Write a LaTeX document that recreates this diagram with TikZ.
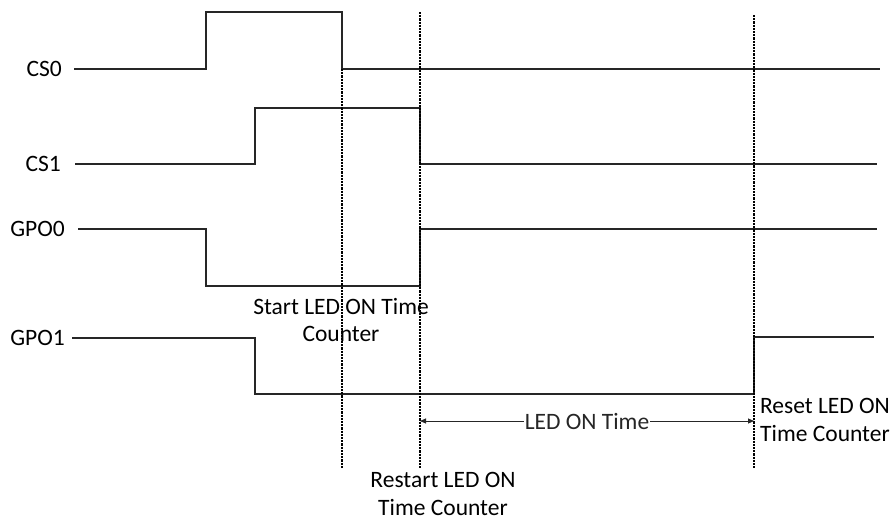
\documentclass[tikz,border=0pt]{standalone}
\usepackage{fontspec}
\setmainfont{Carlito}
\usetikzlibrary{arrows.meta}
\begin{document}
\begin{tikzpicture}[x=1pt,y=-1pt,
  sig/.style={line width=1.1pt, black!85, line join=miter},
  guide/.style={line width=1.1pt, black, dash pattern=on 2.2pt off 1pt},
  lbl/.style={font=\fontsize{23.5}{27.5}\selectfont, inner sep=0pt},
  span/.style={line width=0.9pt, black!85, {Triangle[length=6pt,width=5pt]}-{Triangle[length=6pt,width=5pt]}}]
\useasboundingbox (0,0) rectangle (894,522);
% signal labels
\node[lbl, anchor=east] (cs0) at (62,69) {CS0};
\node[lbl, anchor=east] (cs1) at (61,164) {CS1};
\node[lbl, anchor=east] (gpo0) at (65,229) {GPO0};
\node[lbl, anchor=east] (gpo1) at (65,338) {GPO1};
% waveforms
\draw[sig] (74,69) -- (206,69) -- (206,12) -- (342,12) -- (342,69) -- (880,69);
\draw[sig] (75,164) -- (255,164) -- (255,108) -- (420,108) -- (420,164) -- (877,164);
\draw[sig] (78,229) -- (206,229) -- (206,286) -- (420,286) -- (420,229) -- (877,229);
\draw[sig] (72,338) -- (255,338) -- (255,394) -- (754,394) -- (754,337) -- (874,337);
% guide lines
\coordinate (g1t) at (342,69);  \coordinate (g1b) at (342,468);
\coordinate (g2t) at (420,12);  \coordinate (g2b) at (420,468);
\coordinate (g3t) at (754,15);  \coordinate (g3b) at (754,468);
\draw[guide] (g1t) -- (g1b);
\draw[guide] (g2t) -- (g2b);
\draw[guide] (g3t) -- (g3b);
% LED ON time span
\coordinate (aL) at (420,421);
\coordinate (aR) at (754,421);
\draw[span] (aL) -- node[lbl, fill=white, inner xsep=1pt, inner ysep=2pt] (ledon) {LED ON Time} (aR);
% annotations
\node[lbl, align=center] (start) at (341,320) {Start LED ON Time\\Counter};
\node[lbl, align=center] (restart) at (443,494) {Restart LED ON\\Time Counter};
\node[lbl, align=center] (reset) at (825,420) {Reset LED ON\\Time Counter};
\end{tikzpicture}
\end{document}
